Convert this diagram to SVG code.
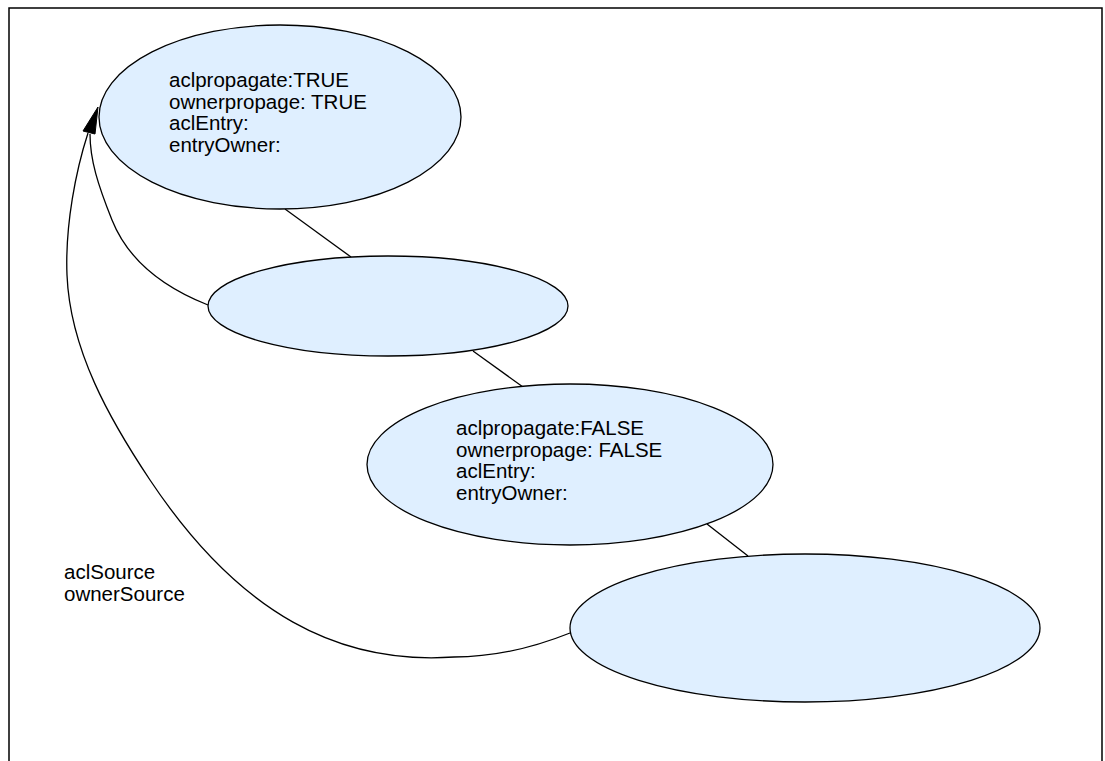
<svg xmlns="http://www.w3.org/2000/svg" width="1105" height="761" viewBox="0 0 1105 761">
  <style>
    .node { fill: #dfefff; stroke: #000; stroke-width: 1.3; }
    .edge { fill: none; stroke: #000; stroke-width: 1.3; }
    .lbl { font-family: "Liberation Sans", Arial, sans-serif; font-size: 20.5px; fill: #000; }
  </style>
  <rect x="0" y="0" width="1105" height="761" fill="#fff"/>
  <!-- frame (open at the bottom) -->
  <path d="M9,761 V8 H1102 V761" fill="none" stroke="#000" stroke-width="1.5"/>

  <g id="connectors">
    <line class="edge" x1="285" y1="209" x2="351" y2="257"/>
    <line class="edge" x1="473" y1="351" x2="523" y2="387"/>
    <line class="edge" x1="707" y1="524" x2="748" y2="556"/>
    <path class="edge" d="M208,305 C170,290 130,265 112,220 C98,185 90,160 90,134"/>
    <path class="edge" d="M570,633 C540,645 500,657 454,657 C340,665 240,615 150,480 C110,420 70,350 67,275 C65,225 76,170 88,133"/>
    <polygon points="98,107 83,131 95,134" fill="#000" stroke="#000" stroke-width="1"/>
  </g>

  <g id="node-root">
    <ellipse class="node" cx="280" cy="117" rx="181" ry="92"/>
    <text class="lbl" x="169" y="87">aclpropagate:TRUE</text>
    <text class="lbl" x="169" y="108.5">ownerpropage: TRUE</text>
    <text class="lbl" x="169" y="130">aclEntry:</text>
    <text class="lbl" x="169" y="151.5">entryOwner:</text>
  </g>

  <g id="node-child">
    <ellipse class="node" cx="388" cy="306" rx="180" ry="50"/>
  </g>

  <g id="node-grandchild">
    <ellipse class="node" cx="570" cy="464.5" rx="203" ry="80.5"/>
    <text class="lbl" x="456" y="435">aclpropagate:FALSE</text>
    <text class="lbl" x="456" y="456.7">ownerpropage: FALSE</text>
    <text class="lbl" x="456" y="478.4">aclEntry:</text>
    <text class="lbl" x="456" y="500">entryOwner:</text>
  </g>

  <g id="node-leaf">
    <ellipse class="node" cx="805" cy="628" rx="235" ry="74"/>
  </g>

  <g id="label-source">
    <text class="lbl" x="64" y="579">aclSource</text>
    <text class="lbl" x="64" y="601">ownerSource</text>
  </g>
</svg>
